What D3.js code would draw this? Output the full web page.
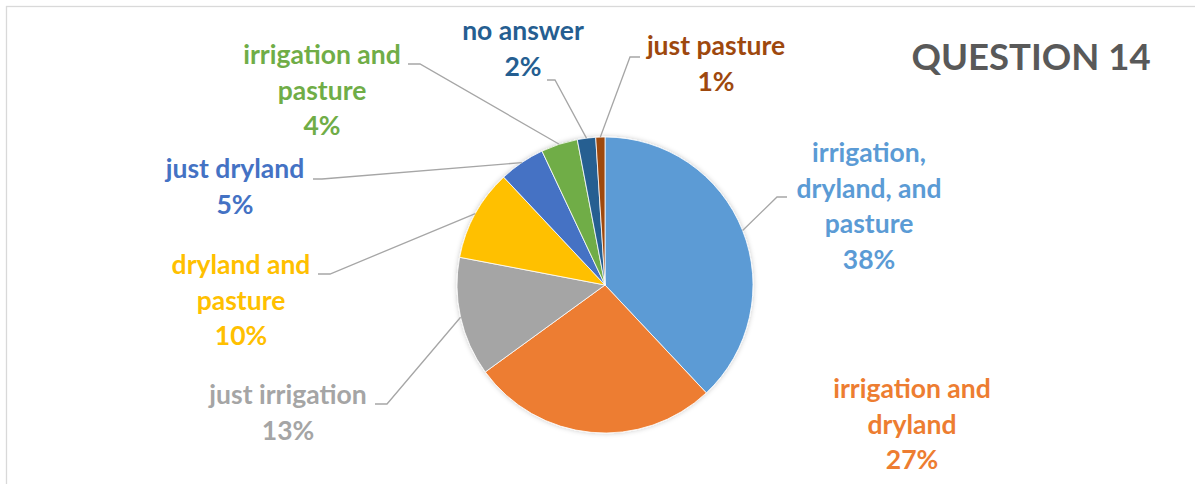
<!DOCTYPE html>
<html>
<head>
<meta charset="utf-8">
<script src="https://cdn.jsdelivr.net/npm/d3@7"></script>
<style>
  html, body { margin: 0; padding: 0; background: #fff; }
  svg { display: block; }
</style>
</head>
<body>
<svg id="chart" width="1195" height="484"></svg>
<script>
// ---- data ----
const categories = [
  "irrigation, dryland, and pasture",
  "irrigation and dryland",
  "just irrigation",
  "dryland and pasture",
  "just dryland",
  "irrigation and pasture",
  "no answer",
  "just pasture"
];
const values = [38, 27, 13, 10, 5, 4, 2, 1];
const labelLines = [
  ["irrigation,", "dryland, and", "pasture"],
  ["irrigation and", "dryland"],
  ["just irrigation"],
  ["dryland and", "pasture"],
  ["just dryland"],
  ["irrigation and", "pasture"],
  ["no answer"],
  ["just pasture"]
];
const colors = ["#5B9BD5", "#ED7D31", "#A5A5A5", "#FFC000", "#4472C4", "#70AD47", "#255E91", "#9E480E"];
const title = "QUESTION 14";

// ---- layout (positions, not data) ----
const cx = 605, cy = 285, R = 148;
const lineH = 35.5;
const labelLayout = [
  { x: 869, y: 162, elbow: [777, 197], end: 787 },
  { x: 912, y: 398, elbow: null, end: null },
  { x: 288, y: 404, elbow: [387, 404], end: 375 },
  { x: 241, y: 274, elbow: [330, 274], end: 318 },
  { x: 235, y: 178, elbow: [322, 179], end: 313 },
  { x: 322, y: 64, elbow: [420, 64], end: 408 },
  { x: 523, y: 40, elbow: [555, 80], end: 547 },
  { x: 716, y: 55, elbow: [630, 57], end: 640 }
];

const svg = d3.select("#chart");

svg.append("rect")
  .attr("x", 6.5).attr("y", 6.5)
  .attr("width", 1200).attr("height", 500)
  .attr("fill", "#fff").attr("stroke", "#D9D9D9").attr("stroke-width", 1.3);

const defs = svg.append("defs");
const f = defs.append("filter").attr("id", "shadow")
  .attr("x", "-20%").attr("y", "-20%").attr("width", "140%").attr("height", "140%");
f.append("feDropShadow").attr("dx", 0).attr("dy", 0).attr("stdDeviation", 2.5)
  .attr("flood-color", "#000").attr("flood-opacity", 0.22);

const pie = d3.pie().sort(null).value(d => d)(values);
const arc = d3.arc().innerRadius(0).outerRadius(R);

const g = svg.append("g").attr("transform", `translate(${cx},${cy})`);
g.append("g").attr("filter", "url(#shadow)")
  .selectAll("path").data(pie).join("path")
  .attr("d", arc)
  .attr("fill", (d, i) => colors[i])
  .attr("stroke", "#fff").attr("stroke-width", 0.8);

pie.forEach((d, i) => {
  const L = labelLayout[i];
  if (!L.elbow) return;
  const a = (d.startAngle + d.endAngle) / 2;
  const px = cx + R * Math.sin(a), py = cy - R * Math.cos(a);
  svg.append("polyline")
    .attr("points", `${px},${py} ${L.elbow[0]},${L.elbow[1]} ${L.end},${L.elbow[1]}`)
    .attr("fill", "none").attr("stroke", "#A6A6A6").attr("stroke-width", 1.3);
});

const total = d3.sum(values);
pie.forEach((d, i) => {
  const L = labelLayout[i];
  const lines = labelLines[i].concat([Math.round(values[i] / total * 100) + "%"]);
  const t = svg.append("text")
    .attr("text-anchor", "middle")
    .attr("font-family", "Lato, 'Open Sans', sans-serif")
    .attr("font-weight", "bold")
    .attr("font-size", 26.5)
    .attr("fill", colors[i]);
  lines.forEach((s, k) => {
    t.append("tspan").attr("x", L.x).attr("y", L.y + k * lineH).text(s);
  });
});

svg.append("text")
  .attr("x", 1031).attr("y", 70)
  .attr("text-anchor", "middle")
  .attr("font-family", "Lato, 'Open Sans', sans-serif")
  .attr("font-weight", "bold")
  .attr("font-size", 36.5)
  .attr("fill", "#595959")
  .text(title);
</script>
</body>
</html>
